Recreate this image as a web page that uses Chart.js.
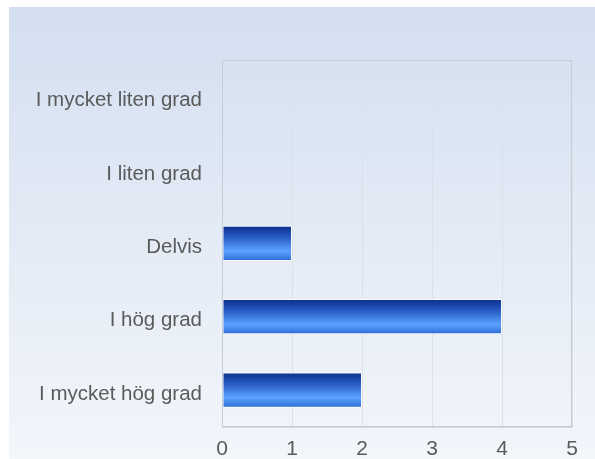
<!DOCTYPE html>
<html>
<head>
<meta charset="utf-8">
<script src="https://cdn.jsdelivr.net/npm/chart.js@4"></script>
<style>
  html, body { margin: 0; padding: 0; background: #ffffff; }
  #wrap { width: 595px; height: 459px; position: relative; }
</style>
</head>
<body>
<div id="wrap"><canvas id="myChart" width="595" height="459"></canvas></div>
<script>
const categories = ['I mycket liten grad', 'I liten grad', 'Delvis', 'I hög grad', 'I mycket hög grad'];
const answers = [0, 0, 1, 4, 2];
const xTicks = [0, 1, 2, 3, 4, 5];

const barPct = 0.48;

// background panel behind the whole chart
const panelBg = {
  id: 'panelBg',
  beforeDraw(chart) {
    const ctx = chart.ctx;
    const g = ctx.createLinearGradient(0, 7, 0, chart.height);
    g.addColorStop(0, '#d3dff0');
    g.addColorStop(1, '#f3f6fb');
    ctx.save();
    ctx.fillStyle = g;
    ctx.fillRect(9, 7, chart.width - 9, chart.height - 7);
    ctx.restore();
  }
};

function barFill(context) {
  const chart = context.chart;
  if (!chart.chartArea) return '#2f6fd8';
  const yScale = chart.scales.y;
  const y = yScale.getPixelForValue(context.dataIndex);
  const h = (yScale.height / categories.length) * barPct / 2;
  const g = chart.ctx.createLinearGradient(0, y - h, 0, y + h);
  g.addColorStop(0, '#0a2d8c');
  g.addColorStop(0.35, '#2a5fc8');
  g.addColorStop(0.72, '#5ca4ff');
  g.addColorStop(1, '#2a6ad4');
  return g;
}

const ctx = document.getElementById('myChart').getContext('2d');
new Chart(ctx, {
  type: 'bar',
  data: {
    labels: categories,
    datasets: [{
      data: answers,
      backgroundColor: barFill,
      borderColor: '#ffffff',
      borderWidth: 1,
      borderSkipped: false,
      barPercentage: barPct,
      categoryPercentage: 1
    }]
  },
  options: {
    indexAxis: 'y',
    responsive: false,
    animation: false,
    layout: { padding: { left: 0, top: 60, right: 23, bottom: 0 } },
    plugins: {
      legend: { display: false },
      tooltip: { enabled: false }
    },
    scales: {
      x: {
        min: 0,
        max: 5,
        afterBuildTicks: scale => { scale.ticks = xTicks.map(v => ({ value: v })); },
        afterFit: scale => { scale.height = 29; },
        grid: { color: '#dce1e9', drawTicks: false },
        border: { color: '#c6ccd5' },
        ticks: {
          padding: 10,
          color: '#5a5a5a',
          font: { family: 'Liberation Sans, Arial, sans-serif', size: 21 }
        }
      },
      y: {
        afterFit: scale => { scale.width = 222; },
        grid: { display: false, drawTicks: false },
        border: { color: '#c6ccd5' },
        ticks: {
          padding: 20,
          labelOffset: 4,
          color: '#5a5a5a',
          font: { family: 'Liberation Sans, Arial, sans-serif', size: 20.5 }
        }
      }
    }
  },
  plugins: [panelBg, {
    id: 'frame',
    afterDraw(chart) {
      const a = chart.chartArea;
      const c = chart.ctx;
      c.save();
      c.strokeStyle = '#c6ccd5';
      c.lineWidth = 1;
      c.strokeRect(a.left + 0.5, a.top + 0.5, a.right - a.left - 1, a.bottom - a.top);
      c.restore();
    }
  }]
});
</script>
</body>
</html>
